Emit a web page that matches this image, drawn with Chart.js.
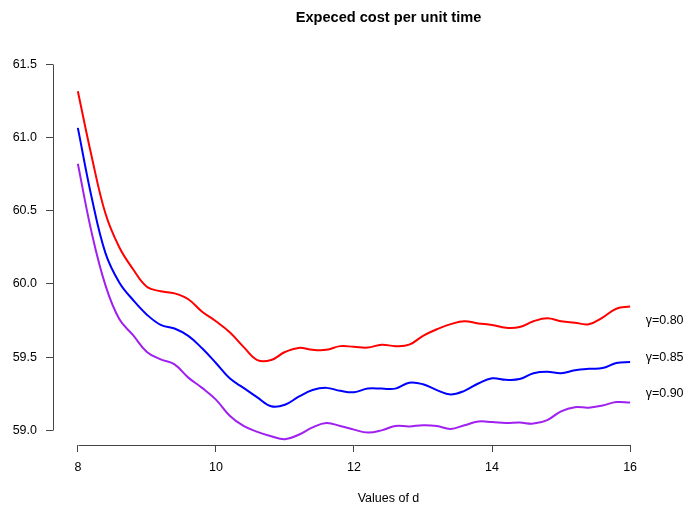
<!DOCTYPE html>
<html>
<head>
<meta charset="utf-8">
<script src="https://cdn.jsdelivr.net/npm/chart.js@4/dist/chart.umd.min.js"></script>
<style>
  html, body { margin: 0; padding: 0; background: #fff; overflow: hidden; width: 686px; height: 506px; }
  canvas { display: block; }
</style>
</head>
<body>
<canvas id="c" width="724" height="506"></canvas>
<script>
// ---- data ----
const dValues = [8.0, 8.2, 8.4, 8.6, 8.8, 9.0, 9.2, 9.4, 9.6, 9.8,
                 10.0, 10.2, 10.4, 10.6, 10.8, 11.0, 11.2, 11.4, 11.6, 11.8,
                 12.0, 12.2, 12.4, 12.6, 12.8, 13.0, 13.2, 13.4, 13.6, 13.8,
                 14.0, 14.2, 14.4, 14.6, 14.8, 15.0, 15.2, 15.4, 15.6, 15.8, 16.0];

const cost080 = [61.315, 60.87, 60.48, 60.25, 60.10, 59.98, 59.95, 59.935, 59.895, 59.81,
                 59.745, 59.67, 59.57, 59.48, 59.48, 59.535, 59.563, 59.55, 59.55, 59.575,
                 59.57, 59.565, 59.585, 59.575, 59.585, 59.645, 59.69, 59.725, 59.745, 59.73,
                 59.72, 59.70, 59.705, 59.745, 59.765, 59.745, 59.735, 59.725, 59.77, 59.83, 59.845];

const cost085 = [61.065, 60.59, 60.21, 60.01, 59.89, 59.79, 59.72, 59.695, 59.645, 59.56,
                 59.46, 59.355, 59.29, 59.225, 59.165, 59.175, 59.23, 59.275, 59.29, 59.27,
                 59.26, 59.285, 59.285, 59.285, 59.325, 59.315, 59.275, 59.245, 59.27, 59.32,
                 59.355, 59.345, 59.35, 59.39, 59.40, 59.39, 59.41, 59.42, 59.425, 59.46, 59.467];

const cost090 = [60.82, 60.35, 59.99, 59.76, 59.65, 59.535, 59.485, 59.45, 59.36, 59.29,
                 59.21, 59.10, 59.03, 58.99, 58.96, 58.94, 58.97, 59.02, 59.05, 59.03,
                 59.005, 58.985, 59.0, 59.03, 59.027, 59.035, 59.03, 59.01, 59.035, 59.06,
                 59.057, 59.05, 59.053, 59.046, 59.07, 59.13, 59.158, 59.155, 59.17, 59.193, 59.19];

const xTicks = [8, 10, 12, 14, 16];
const yTicks = [59.0, 59.5, 60.0, 60.5, 61.0, 61.5];

const seriesLabels = ["γ=0.80", "γ=0.85", "γ=0.90"];
const seriesColors = ["#FF0000", "#0000FF", "#A020F0"];
const labelX = 16.5;
const labelY = [59.75, 59.5, 59.25];

const titleText = "Expeced cost per unit time";
const xTitle = "Values of d";

// ---- chart ----
const FONT = "'Liberation Sans', Arial, Helvetica, sans-serif";
const AXIS_COLOR = "#444";

function toPoints(xs, ys) { return xs.map((x, i) => ({ x: x, y: ys[i] })); }

const rAxes = {
  id: 'rAxes',
  beforeDatasetsDraw(chart) {
    const { ctx, chartArea, scales: { x, y } } = chart;
    ctx.save();
    ctx.strokeStyle = AXIS_COLOR;
    ctx.lineWidth = 1;
    ctx.beginPath();
    const yb = Math.round(chartArea.bottom) + 0.5;
    ctx.moveTo(Math.round(x.getPixelForValue(xTicks[0])) + 0.5, yb);
    ctx.lineTo(Math.round(x.getPixelForValue(xTicks[xTicks.length - 1])) + 0.5, yb);
    const xl = Math.round(chartArea.left) + 0.5;
    ctx.moveTo(xl, Math.round(y.getPixelForValue(yTicks[0])) + 0.5);
    ctx.lineTo(xl, Math.round(y.getPixelForValue(yTicks[yTicks.length - 1])) + 0.5);
    ctx.stroke();
    ctx.restore();
  },
  afterDatasetsDraw(chart) {
    const { ctx, scales: { x, y } } = chart;
    ctx.save();
    ctx.fillStyle = "#000";
    ctx.font = "12.5px " + FONT;
    ctx.textAlign = "center";
    ctx.textBaseline = "middle";
    seriesLabels.forEach((t, i) => {
      ctx.fillText(t, x.getPixelForValue(labelX), y.getPixelForValue(labelY[i]));
    });
    ctx.restore();
  }
};

new Chart(document.getElementById('c'), {
  type: 'line',
  data: {
    datasets: [
      { label: seriesLabels[0], data: toPoints(dValues, cost080), borderColor: seriesColors[0] },
      { label: seriesLabels[1], data: toPoints(dValues, cost085), borderColor: seriesColors[1] },
      { label: seriesLabels[2], data: toPoints(dValues, cost090), borderColor: seriesColors[2] }
    ]
  },
  options: {
    responsive: false,
    animation: false,
    devicePixelRatio: 1,
    layout: { padding: 0 },
    elements: {
      line: { borderWidth: 2, tension: 0.4, fill: false },
      point: { radius: 0, hoverRadius: 0 }
    },
    plugins: {
      legend: { display: false },
      tooltip: { enabled: false },
      title: {
        display: true,
        text: titleText,
        fullSize: false,
        color: "#000",
        font: { family: FONT, size: 14.6, weight: 'bold' },
        padding: { top: 9, bottom: 23 }
      }
    },
    scales: {
      x: {
        type: 'linear',
        min: 7.64,
        max: 17.36,
        afterBuildTicks: (s) => { s.ticks = xTicks.map(v => ({ value: v })); },
        afterFit: (s) => { s.height = 61; },
        ticks: {
          color: "#000",
          font: { family: FONT, size: 12.5 },
          padding: 8,
          maxRotation: 0,
          callback: (v) => String(v)
        },
        grid: { drawOnChartArea: false, drawTicks: true, tickLength: 7, color: AXIS_COLOR, lineWidth: 1 },
        border: { display: false },
        title: {
          display: true,
          text: xTitle,
          color: "#000",
          font: { family: FONT, size: 12.5 },
          padding: { top: 0, bottom: 0 }
        }
      },
      y: {
        type: 'linear',
        min: 58.9,
        max: 61.6,
        afterBuildTicks: (s) => { s.ticks = yTicks.map(v => ({ value: v })); },
        afterFit: (s) => { s.width = 53; },
        ticks: {
          color: "#000",
          font: { family: FONT, size: 12.5 },
          padding: 9,
          callback: (v) => Number(v).toFixed(1)
        },
        grid: { drawOnChartArea: false, drawTicks: true, tickLength: 7, color: AXIS_COLOR, lineWidth: 1 },
        border: { display: false }
      }
    }
  },
  plugins: [rAxes]
});
</script>
</body>
</html>
